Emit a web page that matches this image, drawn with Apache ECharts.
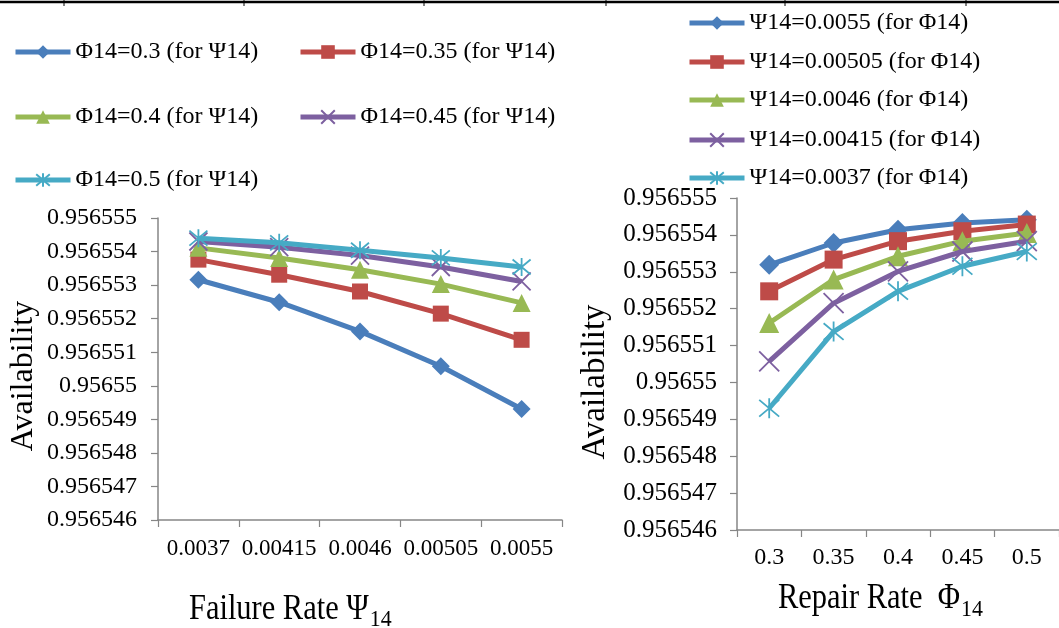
<!DOCTYPE html>
<html>
<head>
<meta charset="utf-8">
<script src="https://cdn.jsdelivr.net/npm/echarts@6/dist/echarts.min.js"></script>
<style>
html,body{margin:0;padding:0;background:#fff;}
#chart{width:1059px;height:628px;}
</style>
</head>
<body>
<div id="chart"></div>
<script>
// ---------- data ----------
const psiCategories = ['0.0037', '0.00415', '0.0046', '0.00505', '0.0055'];
const phiCategories = ['0.3', '0.35', '0.4', '0.45', '0.5'];
const yTickLabels = ['0.956546', '0.956547', '0.956548', '0.956549', '0.95655',
                     '0.956551', '0.956552', '0.956553', '0.956554', '0.956555'];

// left chart: availability vs failure rate Ψ14, one series per Φ14
const leftNames = ['Φ14=0.3 (for Ψ14)', 'Φ14=0.35 (for Ψ14)', 'Φ14=0.4 (for Ψ14)',
                   'Φ14=0.45 (for Ψ14)', 'Φ14=0.5 (for Ψ14)'];
const phi030 = [0.95655316, 0.95655249, 0.95655162, 0.95655058, 0.95654931];
const phi035 = [0.95655376, 0.95655331, 0.95655281, 0.95655215, 0.95655137];
const phi040 = [0.95655411, 0.95655381, 0.95655346, 0.95655303, 0.95655247];
const phi045 = [0.95655430, 0.95655413, 0.95655388, 0.95655354, 0.95655311];
const phi050 = [0.95655440, 0.95655426, 0.95655404, 0.95655381, 0.95655354];

// right chart: availability vs repair rate Φ14, one series per Ψ14
const rightNames = ['Ψ14=0.0055 (for Φ14)', 'Ψ14=0.00505 (for Φ14)', 'Ψ14=0.0046 (for Φ14)',
                    'Ψ14=0.00415 (for Φ14)', 'Ψ14=0.0037 (for Φ14)'];
const psi00550 = [0.95655319, 0.95655378, 0.95655414, 0.95655432, 0.95655441];
const psi00505 = [0.95655247, 0.95655333, 0.95655383, 0.95655410, 0.95655428];
const psi00460 = [0.95655161, 0.95655279, 0.95655342, 0.95655383, 0.95655405];
const psi00415 = [0.95655057, 0.95655215, 0.95655301, 0.95655355, 0.95655383];
const psi00370 = [0.95654930, 0.95655138, 0.95655247, 0.95655315, 0.95655355];

const yMin = 0.956546, yMax = 0.956555, yStep = 0.000001;

// ---------- styles ----------
const FONT = '"Liberation Serif", "Times New Roman", serif';
const colors = ['#4A7EBB', '#BE4B48', '#98B954', '#7D60A0', '#46AAC5'];
const symbols = ['diamond', 'rect', 'triangle',
  'path://M0,0L10,10M10,0L0,10',
  'path://M0,0L10,10M10,0L0,10M5,-1L5,11'];
const axisGray = '#868686';

function makeSeries(names, datas, xi, size, lw) {
  return names.map((n, i) => {
    const stroked = i >= 3;
    return {
      name: n, type: 'line', xAxisIndex: xi, yAxisIndex: xi,
      data: datas[i], symbol: symbols[i],
      symbolSize: i === 1 ? size - 2 : size,
      showAllSymbol: true,
      lineStyle: { color: colors[i], width: lw },
      itemStyle: stroked
        ? { color: colors[i], borderColor: colors[i], borderWidth: 1.8 }
        : { color: colors[i], borderWidth: 0 },
      emphasis: { disabled: true },
      z: 2 + i
    };
  });
}

function makeY(gi, size, margin) {
  return {
    type: 'value', gridIndex: gi, min: yMin, max: yMax, interval: yStep,
    axisLine: { show: true, lineStyle: { color: axisGray, width: 1.5 } },
    axisTick: { show: true, length: 7, lineStyle: { color: axisGray, width: 1.2 } },
    splitLine: { show: false },
    axisLabel: {
      margin: margin, fontFamily: FONT, fontSize: size, color: '#000',
      formatter: v => yTickLabels[Math.round((v - yMin) / yStep)]
    }
  };
}
function makeX(gi, cats, size, margin) {
  return {
    type: 'category', gridIndex: gi, data: cats, boundaryGap: true,
    axisLine: { show: true, lineStyle: { color: axisGray, width: 1.5 } },
    axisTick: { show: true, length: 7, interval: 0, lineStyle: { color: axisGray, width: 1.2 } },
    splitLine: { show: false },
    axisLabel: { interval: 0, margin: margin, fontFamily: FONT, fontSize: size, color: '#000' }
  };
}

function legendAt(name, left, centerY) {
  return {
    data: [name], left: left, top: centerY - 12, padding: 0, itemGap: 0,
    itemWidth: 55, itemHeight: 17, selectedMode: false,
    lineStyle: { width: 5 },
    textStyle: { fontFamily: FONT, fontSize: 24, color: '#000' }
  };
}

// measure text to place subscripts
const ctx = document.createElement('canvas').getContext('2d');
function tw(txt, size) { ctx.font = size + 'px ' + FONT; return ctx.measureText(txt).width; }

const sx = 0.87;
const leftTitle = 'Failure Rate Ψ', rightTitle = 'Repair Rate  Φ';
const ltX = 189, rtX = 778;
const ltW = tw(leftTitle, 35) * sx, rtW = tw(rightTitle, 35) * sx;

const option = {
  animation: false,
  backgroundColor: '#fff',
  grid: [
    { left: 158, top: 218, width: 404, height: 302 },
    { left: 737, top: 198, width: 329, height: 332 }
  ],
  xAxis: [makeX(0, psiCategories, 23, 17), makeX(1, phiCategories, 24, 16)],
  yAxis: [makeY(0, 24, 21), makeY(1, 25, 20)],
  legend: [
    legendAt(leftNames[0], 13, 52), legendAt(leftNames[1], 298, 52),
    legendAt(leftNames[2], 13, 117), legendAt(leftNames[3], 298, 117),
    legendAt(leftNames[4], 13, 180),
    legendAt(rightNames[0], 687, 23), legendAt(rightNames[1], 687, 62),
    legendAt(rightNames[2], 687, 100), legendAt(rightNames[3], 687, 140),
    legendAt(rightNames[4], 687, 178)
  ],
  series: [].concat(
    makeSeries(leftNames, [phi030, phi035, phi040, phi045, phi050], 0, 18, 5),
    makeSeries(rightNames, [psi00550, psi00505, psi00460, psi00415, psi00370], 1, 20, 5)
  ),
  graphic: [
    // table border at top
    { type: 'line', shape: { x1: 0, y1: 2, x2: 1059, y2: 2 }, style: { stroke: '#000', lineWidth: 2.5 } },
    ...[64, 244, 424, 606, 785, 966].map(x => ({
      type: 'line', shape: { x1: x, y1: 0, x2: x, y2: 6 }, style: { stroke: '#000', lineWidth: 1 }
    })),
    // axis titles
    { type: 'text', x: 24, y: 376, rotation: Math.PI / 2,
      style: { text: 'Availability', font: '32px ' + FONT, fill: '#000', align: 'center', verticalAlign: 'middle' } },
    { type: 'text', x: 595, y: 382, rotation: Math.PI / 2,
      style: { text: 'Availability', font: '33px ' + FONT, fill: '#000', align: 'center', verticalAlign: 'middle' } },
    { type: 'text', x: ltX, y: 610, scaleX: sx,
      style: { text: leftTitle, font: '35px ' + FONT, fill: '#000', align: 'left', verticalAlign: 'middle' } },
    { type: 'text', x: ltX + ltW + 1, y: 620, scaleX: 0.95,
      style: { text: '14', font: '23px ' + FONT, fill: '#000', align: 'left', verticalAlign: 'middle' } },
    { type: 'text', x: rtX, y: 599, scaleX: sx,
      style: { text: rightTitle, font: '35px ' + FONT, fill: '#000', align: 'left', verticalAlign: 'middle' } },
    { type: 'text', x: rtX + rtW + 1, y: 610, scaleX: 0.95,
      style: { text: '14', font: '23px ' + FONT, fill: '#000', align: 'left', verticalAlign: 'middle' } }
  ]
};

const chart = echarts.init(document.getElementById('chart'), null, { renderer: 'canvas' });
chart.setOption(option);
</script>
</body>
</html>
